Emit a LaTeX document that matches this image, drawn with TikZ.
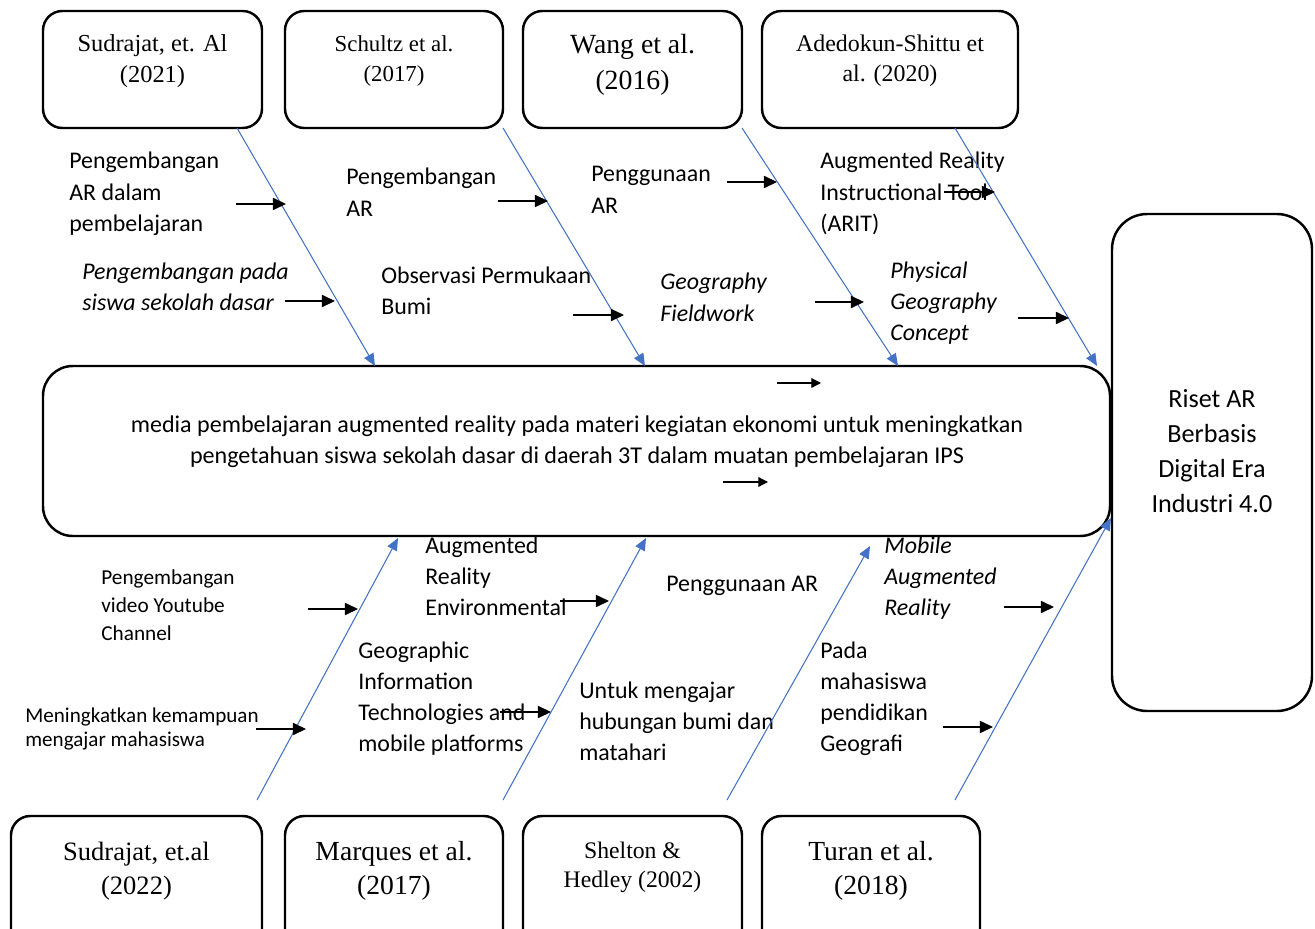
\documentclass[tikz,border=0pt]{standalone}
\usepackage{fontspec}
\setmainfont{Liberation Serif}
\setsansfont{Carlito}
\usetikzlibrary{arrows.meta,fit}
\definecolor{arblue}{RGB}{68,114,196}
\newcommand\lines[2]{\begin{tabular}[t]{@{}#1@{}}#2\end{tabular}}
\newcommand\sfA{\sffamily\fontsize{13.6}{17.8}\selectfont}
\newcommand\sfB{\sffamily\fontsize{12.1}{16.2}\selectfont}
\newcommand\sfC{\sffamily\fontsize{12}{14.2}\selectfont}
\newcommand\sfR{\sffamily\fontsize{14.9}{20}\selectfont}
\begin{document}
\begin{tikzpicture}[x=0.02cm,y=-0.02cm,
  box/.style={draw, line width=1.4pt, rounded corners=11pt, inner sep=0pt},
  lbl/.style={inner sep=0pt, anchor=base west, font=\sfA},
  ser/.style={inner sep=0pt, anchor=base},
  blue/.style={draw=arblue, line width=0.6pt, -{Triangle[length=7pt,width=6pt]}},
  blk/.style={draw=black, line width=0.7pt, -{Triangle[length=7.5pt,width=7pt]}},
  blks/.style={draw=black, line width=0.7pt, -{Triangle[length=5.5pt,width=5.5pt]}}]
\useasboundingbox (0,0) rectangle (1315,929);
\clip (0,0) rectangle (1315,929);
% boxes
\node[box, fit={(43,11) (262,128)}] (b1) {};
\node[box, fit={(285,11) (503,128)}] (b2) {};
\node[box, fit={(523,11) (742,128)}] (b3) {};
\node[box, fit={(762,11) (1018,128)}] (b4) {};
\node[box, rounded corners=17pt, fit={(43,366) (1110,536)}] (main) {};
\node[box, rounded corners=20pt, fit={(1112,214) (1312,711)}] (riset) {};
\node[box, fit={(11,816) (262,960)}] (c1) {};
\node[box, fit={(285,816) (503,960)}] (c2) {};
\node[box, fit={(523,816) (742,960)}] (c3) {};
\node[box, fit={(762,816) (980,960)}] (c4) {};
% box labels
\node[ser, font=\fontsize{13.9}{17.6}\selectfont] (b1t) at (152.5,52) {\lines{c}{Sudrajat, et. Al\\(2021)}};
\node[ser, font=\fontsize{13}{16.6}\selectfont] (b2t) at (394,52) {\lines{c}{Schultz et al.\\(2017)}};
\node[ser, font=\fontsize{15.8}{20.2}\selectfont] (b3t) at (632.5,54) {\lines{c}{Wang et al.\\(2016)}};
\node[ser, font=\fontsize{13.6}{16.6}\selectfont] (b4t) at (890,52) {\lines{c}{Adedokun-Shittu et\\al. (2020)}};
\node[ser, font=\fontsize{15.1}{19.6}\selectfont] (c1t) at (136.5,860) {\lines{c}{Sudrajat, et.al\\(2022)}};
\node[ser, font=\fontsize{15.7}{19.6}\selectfont] (c2t) at (394,860) {\lines{c}{Marques et al.\\(2017)}};
\node[ser, font=\fontsize{13.5}{16.8}\selectfont] (c3t) at (632.5,858) {\lines{c}{Shelton \&\\Hedley (2002)}};
\node[ser, font=\fontsize{15.7}{19.6}\selectfont] (c4t) at (871,860) {\lines{c}{Turan et al.\\(2018)}};
\node[ser, font=\sffamily\fontsize{13.7}{17.8}\selectfont] (maint) at (577,432) {\lines{c}{media pembelajaran augmented reality pada materi kegiatan ekonomi untuk meningkatkan\\pengetahuan siswa sekolah dasar di daerah 3T dalam muatan pembelajaran IPS}};
\node[ser, font=\sfR] (risett) at (1212,407) {\lines{c}{Riset AR\\Berbasis\\Digital Era\\Industri 4.0}};
% top labels
\node[lbl] (t1) at (69,169) {\lines{l}{Pengembangan\\AR dalam\\pembelajaran}};
\node[lbl] (t2) at (346,185) {\lines{l}{Pengembangan\\AR}};
\node[lbl] (t3) at (591,182) {\lines{l}{Penggunaan\\AR}};
\node[lbl] (t4) at (820,169) {\lines{l}{Augmented Reality\\Instructional Tool\\(ARIT)}};
\node[lbl, font=\sfA\itshape] (t5) at (82,279) {\lines{l}{Pengembangan pada\\siswa sekolah dasar}};
\node[lbl] (t6) at (381,283) {\lines{l}{Observasi Permukaan\\Bumi}};
\node[lbl, font=\sfA\itshape] (t7) at (660,290) {\lines{l}{Geography\\Fieldwork}};
\node[lbl, font=\sfA\itshape] (t8) at (890,278) {\lines{l}{Physical\\Geography\\Concept}};
% bottom labels
\node[lbl, font=\sfB] (u1) at (101,584) {\lines{l}{Pengembangan\\video Youtube\\Channel}};
\node[lbl] (u2) at (425,553) {\lines{l}{Augmented\\Reality\\Environmental}};
\node[lbl] (u3) at (666,591) {Penggunaan AR};
\node[lbl, font=\sfA\itshape] (u4) at (884,553) {\lines{l}{Mobile\\Augmented\\Reality}};
\node[lbl] (u5) at (358,658) {\lines{l}{Geographic\\Information\\Technologies and\\mobile platforms}};
\node[lbl, font=\sfC] (u6) at (25,722) {\lines{l}{Meningkatkan kemampuan\\mengajar mahasiswa}};
\node[lbl] (u7) at (579,698) {\lines{l}{Untuk mengajar\\hubungan bumi dan\\matahari}};
\node[lbl] (u8) at (820,658) {\lines{l}{Pada\\mahasiswa\\pendidikan\\Geografi}};
% blue bones
\coordinate (a1s) at (237,128); \coordinate (a1e) at (375,366);
\coordinate (a2s) at (503,128); \coordinate (a2e) at (645,366);
\coordinate (a3s) at (742,128); \coordinate (a3e) at (898,366);
\coordinate (a4s) at (955,128); \coordinate (a4e) at (1097,366);
\coordinate (d1s) at (257,800); \coordinate (d1e) at (398,538);
\coordinate (d2s) at (503,800); \coordinate (d2e) at (646,538);
\coordinate (d3s) at (727,800); \coordinate (d3e) at (870,546);
\coordinate (d4s) at (955,800); \coordinate (d4e) at (1111,518);
\draw[blue] (a1s) -- (a1e);
\draw[blue] (a2s) -- (a2e);
\draw[blue] (a3s) -- (a3e);
\draw[blue] (a4s) -- (a4e);
\draw[blue] (d1s) -- (d1e);
\draw[blue] (d2s) -- (d2e);
\draw[blue] (d3s) -- (d3e);
\draw[blue] (d4s) -- (d4e);
% black arrows
\coordinate (k1s) at (236,204); \coordinate (k1e) at (286,204);
\coordinate (k2s) at (498,201); \coordinate (k2e) at (548,201);
\coordinate (k3s) at (727,182); \coordinate (k3e) at (777,182);
\coordinate (k4s) at (944,192); \coordinate (k4e) at (995,192);
\coordinate (k5s) at (285,301); \coordinate (k5e) at (335,301);
\coordinate (k6s) at (573,315); \coordinate (k6e) at (624,315);
\coordinate (k7s) at (815,302); \coordinate (k7e) at (864,302);
\coordinate (k8s) at (1018,318); \coordinate (k8e) at (1069,318);
\coordinate (k9s) at (777,383); \coordinate (k9e) at (821,383);
\coordinate (k10s) at (723,482); \coordinate (k10e) at (768,482);
\coordinate (m1s) at (308,609); \coordinate (m1e) at (358,609);
\coordinate (m2s) at (560,601); \coordinate (m2e) at (609,601);
\coordinate (m3s) at (256,729); \coordinate (m3e) at (306,729);
\coordinate (m4s) at (500,712); \coordinate (m4e) at (551,712);
\coordinate (m5s) at (1004,607); \coordinate (m5e) at (1054,607);
\coordinate (m6s) at (943,727); \coordinate (m6e) at (993,727);
\foreach \k in {k1,k2,k3,k4,k5,k6,k7,k8,m1,m2,m3,m4,m5,m6}{\draw[blk] (\k s) -- (\k e);}
\draw[blks] (k9s) -- (k9e);
\draw[blks] (k10s) -- (k10e);
\end{tikzpicture}
\end{document}
